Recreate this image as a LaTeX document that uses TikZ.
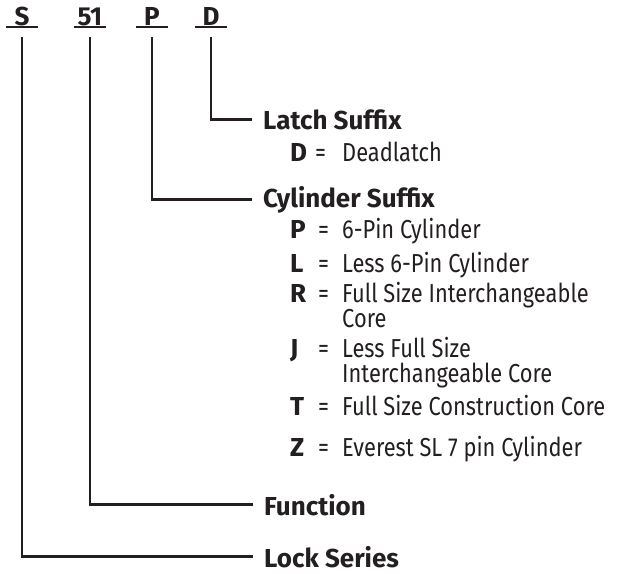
\documentclass[tikz,border=0pt]{standalone}
\usepackage{fontspec}
\setmainfont{Fira Sans}
\newfontfamily\narrowfont{Fira Sans}[FakeStretch=0.84]
\usepackage{tikz}
\usetikzlibrary{positioning,calc}
\definecolor{Ink}{HTML}{231F20}
\tikzset{
  code/.style={font=\fontsize{26}{28}\selectfont\bfseries,text=Ink,inner sep=0pt,text depth=0pt,minimum width=31pt,anchor=base},
  head/.style={font=\fontsize{26}{28}\selectfont\bfseries,text=Ink,inner sep=0pt,anchor=base west},
  key/.style={font=\fontsize{26}{28}\selectfont\bfseries,text=Ink,inner sep=0pt,anchor=base west},
  desc/.style={font=\fontsize{26}{25}\selectfont\narrowfont,text=Ink,inner sep=0pt,align=left,anchor=base west},
  lead/.style={draw=Ink,line width=2.6pt,shorten >=11pt},
  uline/.style={draw=Ink,line width=2.2pt}
}
\begin{document}
\begin{tikzpicture}[x=1pt,y=-1pt]
  \useasboundingbox (0,0) rectangle (620,573);
  % part number
  \node[code] (codeS) at (22,25) {S};
  \node[code] (code51) at (90,25) {51};
  \node[code] (codeP) at (152,25) {P};
  \node[code] (codeD) at (211,25) {D};
  \foreach \c in {codeS,code51,codeP,codeD}
    \draw[uline] ($(\c.south west)+(0,2)$) -- ($(\c.south east)+(0,2)$);

  % headings
  \node[head] (latch) at (263,129) {Latch Suffix};
  \node[head] (cyl) at (263,207) {Cylinder Suffix};
  \node[head] (func) at (264,515) {Function};
  \node[head] (series) at (264,567) {Lock Series};

  % options (base of a two-line text is its last line)
  \node[key] (keyD) at (290,161) {D};
  \node[desc] (eqD) at (315,161) {=};
  \node[desc] (descD) at (342,161) {Deadlatch};
  \foreach \k/\y/\ty/\txt in {P/238/238/6-Pin Cylinder,L/272/272/Less 6-Pin Cylinder,R/302/327/{Full Size Interchangeable\\Core},J/357/382/{Less Full Size\\Interchangeable Core},T/415/415/Full Size Construction Core,Z/456/456/Everest SL 7 pin Cylinder}{
    \node[key] (key\k) at (290,\y) {\k};
    \node[desc] (eq\k) at (318,\y) {=};
    \node[desc] (desc\k) at (342,\ty) {\txt};
  }

  % leaders
  \draw[lead] ($(codeD.south)+(0,12)$) |- (latch.west);
  \draw[lead] ($(codeP.south)+(0,12)$) |- (cyl.west);
  \draw[lead] ($(code51.south)+(0,12)$) |- (func.west);
  \draw[lead] ($(codeS.south)+(0,12)$) |- (series.west);
\end{tikzpicture}
\end{document}
